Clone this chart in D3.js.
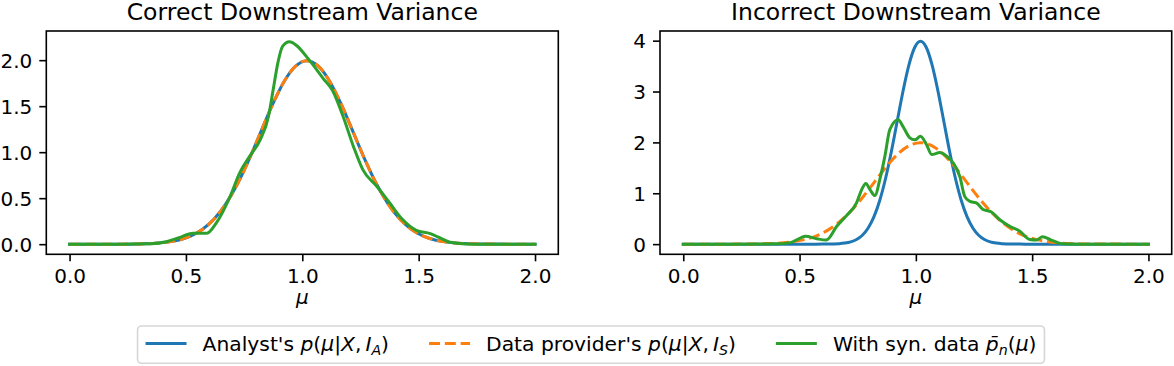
<!DOCTYPE html>
<html><head><meta charset="utf-8">
<script src="https://cdn.jsdelivr.net/npm/d3@7"></script>
<style>
body{margin:0;background:#fff}
svg{display:block}
text{font-family:"DejaVu Sans",sans-serif;fill:#000}
</style>
</head><body>
<svg id="chart" width="1174" height="366"></svg>
<script>
// ---------------- data ----------------
const panelTitles = ["Correct Downstream Variance", "Incorrect Downstream Variance"];
const xTickValues = [0, 0.5, 1.0, 1.5, 2.0];
const yTicksLeft = [0, 0.5, 1.0, 1.5, 2.0];
const yTicksRight = [0, 1, 2, 3, 4];

// wide posterior (analyst in left panel, data provider in both panels)
const wideMu = [0, 0.1, 0.2, 0.3, 0.37, 0.42, 0.47, 0.52, 0.57, 0.62, 0.67, 0.72, 0.77, 0.82, 0.87, 0.92, 0.97, 1.02,
                1.07, 1.12, 1.17, 1.22, 1.27, 1.32, 1.37, 1.42, 1.47, 1.52, 1.57, 1.62, 1.67, 1.72, 1.82, 1.92, 2.0];
const wideDensity = [0, 0, 0, 0.003, 0.0102, 0.0222, 0.0455, 0.0877, 0.159, 0.270, 0.432, 0.648, 0.913, 1.210, 1.506, 1.761, 1.933, 1.995,
                     1.933, 1.761, 1.506, 1.210, 0.913, 0.648, 0.432, 0.270, 0.159, 0.0877, 0.0455, 0.0222, 0.0102, 0.0044, 0.0007, 0, 0];

// narrow analyst posterior (right panel)
const narrowMu = [0, 0.2, 0.4, 0.57, 0.62, 0.67, 0.695, 0.72, 0.745, 0.77, 0.795, 0.82, 0.845, 0.87, 0.895, 0.92, 0.945, 0.97, 0.995, 1.02,
                  1.045, 1.07, 1.095, 1.12, 1.145, 1.17, 1.195, 1.22, 1.245, 1.27, 1.295, 1.32, 1.345, 1.37, 1.42, 1.47, 1.6, 1.8, 2.0];
const narrowDensity = [0, 0, 0, 0, 0.0013, 0.0087, 0.0203, 0.0443, 0.0909, 0.175, 0.318, 0.540, 0.863, 1.295, 1.826, 2.419, 3.011, 3.520, 3.866, 3.989,
                       3.866, 3.520, 3.011, 2.419, 1.826, 1.295, 0.863, 0.540, 0.318, 0.175, 0.0909, 0.0443, 0.0203, 0.0087, 0.0013, 0, 0, 0, 0];

// synthetic-data density, left panel
const synLeftMu = [0, 0.2, 0.35, 0.42, 0.47, 0.53, 0.59, 0.63, 0.69, 0.73, 0.775, 0.82, 0.855, 0.875, 0.895, 0.915, 0.945, 0.975,
                   1.03, 1.09, 1.13, 1.175, 1.22, 1.26, 1.32, 1.375, 1.43, 1.49, 1.55, 1.59, 1.635, 1.7, 1.8, 2.0];
const synLeftDensity = [0, 0, 0.005, 0.03, 0.07, 0.12, 0.12, 0.23, 0.52, 0.77, 0.96, 1.14, 1.39, 1.68, 1.97, 2.15, 2.20, 2.16,
                        2.0, 1.80, 1.67, 1.39, 1.06, 0.81, 0.63, 0.45, 0.27, 0.15, 0.115, 0.07, 0.02, 0.003, 0, 0];

// synthetic-data density, right panel
const synRightMu = [0, 0.2, 0.4, 0.46, 0.49, 0.525, 0.575, 0.615, 0.66, 0.70, 0.745, 0.767, 0.785, 0.803, 0.824, 0.845, 0.867, 0.888,
                    0.924, 0.945, 0.974, 0.996, 1.02, 1.046, 1.068, 1.103, 1.132, 1.16, 1.189, 1.21, 1.232, 1.26, 1.289, 1.325,
                    1.361, 1.404, 1.447, 1.49, 1.518, 1.545, 1.582, 1.63, 1.7, 1.8, 2.0];
const synRightDensity = [0, 0, 0.005, 0.03, 0.09, 0.155, 0.105, 0.08, 0.35, 0.55, 0.81, 1.07, 1.19, 1.07, 0.955, 1.27, 1.73, 2.25,
                         2.445, 2.31, 2.09, 2.05, 2.12, 1.955, 1.76, 1.80, 1.73, 1.60, 1.33, 0.94, 0.84, 0.81, 0.68, 0.63,
                         0.48, 0.35, 0.255, 0.09, 0.08, 0.145, 0.08, 0.005, 0, 0, 0];

// ---------------- drawing ----------------
const C_BLUE = "#1f77b4", C_ORANGE = "#ff7f0e", C_GREEN = "#2ca02c";
const svg = d3.select("#chart");
const axTop = 31, axBottom = 254.3;

const panels = [
  { title: panelTitles[0], left: 46.3, right: 558.3, yDomain: [-0.11, 2.317], yTicks: yTicksLeft, fmt: d3.format(".1f"),
    series: [
      { x: wideMu, y: wideDensity, color: C_BLUE, dash: null },
      { x: wideMu, y: wideDensity, color: C_ORANGE, dash: "11,4.8" },
      { x: synLeftMu, y: synLeftDensity, color: C_GREEN, dash: null }
    ] },
  { title: panelTitles[1], left: 660, right: 1171.7, yDomain: [-0.2, 4.19], yTicks: yTicksRight, fmt: d3.format("d"),
    series: [
      { x: narrowMu, y: narrowDensity, color: C_BLUE, dash: null },
      { x: wideMu, y: wideDensity, color: C_ORANGE, dash: "11,4.8" },
      { x: synRightMu, y: synRightDensity, color: C_GREEN, dash: null }
    ] }
];

panels.forEach(p => {
  const x = d3.scaleLinear().domain([-0.1, 2.1]).range([p.left, p.right]);
  const y = d3.scaleLinear().domain(p.yDomain).range([axBottom, axTop]);
  const g = svg.append("g");

  p.series.forEach(s => {
    const pts = s.x.map((v, i) => [v, s.y[i]]);
    const line = d3.line().x(d => x(d[0])).y(d => y(d[1])).curve(d3.curveMonotoneX);
    g.append("path").attr("d", line(pts))
      .attr("fill", "none").attr("stroke", s.color).attr("stroke-width", 3)
      .attr("stroke-linejoin", "round")
      .attr("stroke-linecap", s.dash ? "butt" : "square")
      .attr("stroke-dasharray", s.dash);
  });

  // axes
  const xa = g.append("g").attr("transform", `translate(0,${axBottom})`)
    .call(d3.axisBottom(x).tickValues(xTickValues).tickFormat(d3.format(".1f")).tickSize(7).tickPadding(7));
  const ya = g.append("g").attr("transform", `translate(${p.left},0)`)
    .call(d3.axisLeft(y).tickValues(p.yTicks).tickFormat(p.fmt).tickSize(7).tickPadding(7));
  [xa, ya].forEach(a => {
    a.select(".domain").remove();
    a.selectAll(".tick line").attr("stroke", "#000").attr("stroke-width", 1.6);
    a.selectAll(".tick text").attr("font-size", 20).attr("font-family", "DejaVu Sans").attr("fill", "#000");
  });
  xa.selectAll(".tick text").attr("dy", "0.74em");
  ya.selectAll(".tick text").attr("dy", "0.36em");

  // frame
  g.append("rect").attr("x", p.left).attr("y", axTop)
    .attr("width", p.right - p.left).attr("height", axBottom - axTop)
    .attr("fill", "none").attr("stroke", "#000").attr("stroke-width", 1.6);

  // title
  g.append("text").attr("x", (p.left + p.right) / 2).attr("y", 20)
    .attr("text-anchor", "middle").attr("font-size", 23.5).text(p.title);

  // x label
  g.append("text").attr("x", (p.left + p.right) / 2).attr("y", 304)
    .attr("text-anchor", "middle").attr("font-size", 20).attr("font-style", "italic").text("μ");
});

// ---------------- legend ----------------
const legendItems = [
  { color: C_BLUE, dash: null, plain: "Analyst's ",
    math: [["p","i"],["(","n"],["μ","i"],["|","n"],["X","i"],[",\u2009","n"],["I","i"],["A","s"],[")","n"]] },
  { color: C_ORANGE, dash: "11,4.8", plain: "Data provider's ",
    math: [["p","i"],["(","n"],["μ","i"],["|","n"],["X","i"],[",\u2009","n"],["I","i"],["S","s"],[")","n"]] },
  { color: C_GREEN, dash: null, plain: "With syn. data ",
    math: [["p\u0304","i"],["n","s"],["(","n"],["μ","i"],[")","n"]] }
];

const lg = svg.append("g");
const boxY = 326, boxH = 37.3, handleY = 343.5, textY = 350.5;
const pad = 8, handleLen = 41, handleGap = 16, colGap = 40;

const entries = legendItems.map(it => {
  const eg = lg.append("g");
  const line = eg.append("line").attr("y1", handleY).attr("y2", handleY)
    .attr("stroke", it.color).attr("stroke-width", 3)
    .attr("stroke-linecap", it.dash ? "butt" : "square").attr("stroke-dasharray", it.dash);
  const t = eg.append("text").attr("y", textY).attr("font-size", 20.3);
  t.append("tspan").text(it.plain);
  let sub = false;
  it.math.forEach(([s, k]) => {
    const ts = t.append("tspan").text(s);
    if (k === "i" || k === "s") ts.attr("font-style", "italic");
    if (k === "s") { ts.attr("font-size", 14.2).attr("dy", sub ? 0 : 4); sub = true; }
    else if (sub) { ts.attr("dy", -4); sub = false; }
  });
  const w = t.node().getComputedTextLength();
  return { line, t, w, dash: it.dash };
});

const totalW = pad * 2 + entries.reduce((a, e) => a + handleLen + handleGap + e.w, 0) + colGap * (entries.length - 1);
const boxX = 591 - totalW / 2;
lg.insert("rect", ":first-child").attr("x", boxX).attr("y", boxY).attr("width", totalW).attr("height", boxH)
  .attr("rx", 4).attr("fill", "#fff").attr("stroke", "#d6d6d6").attr("stroke-width", 1.6);

let cx = boxX + pad;
entries.forEach(e => {
  const inset = e.dash ? 0 : 1.5;
  e.line.attr("x1", cx + inset).attr("x2", cx + handleLen - inset);
  e.t.attr("x", cx + handleLen + handleGap);
  cx += handleLen + handleGap + e.w + colGap;
});
</script>
</body></html>
